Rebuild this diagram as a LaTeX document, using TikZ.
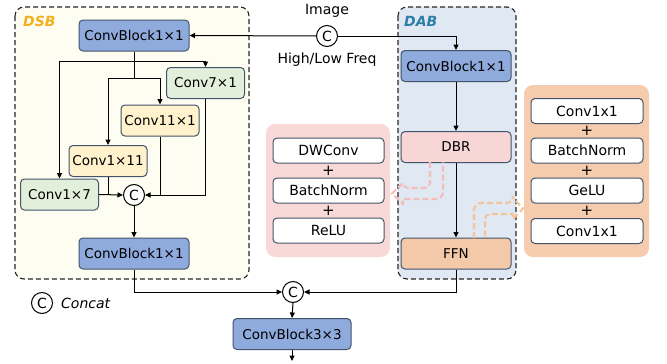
\documentclass[tikz,border=0pt]{standalone}
\usepackage{fontspec}
\setmainfont{DejaVu Sans}
\usetikzlibrary{arrows.meta}

\definecolor{edgecol}{HTML}{44546A}
\definecolor{dsbbg}{HTML}{FDFDF1}
\definecolor{dabbg}{HTML}{DFE8F3}
\definecolor{bluebox}{HTML}{8FAADC}
\definecolor{greenbox}{HTML}{E2EFDA}
\definecolor{yellowbox}{HTML}{FFF2CC}
\definecolor{pinkbox}{HTML}{F8D6D6}
\definecolor{orangebox}{HTML}{F4C9A9}
\definecolor{pinkpanel}{HTML}{F9D8D8}
\definecolor{orangepanel}{HTML}{F5CDAE}
\definecolor{pinkdash}{HTML}{F4BDBA}
\definecolor{orangedash}{HTML}{F4C59C}
\definecolor{dsbtext}{HTML}{F2B01E}
\definecolor{dabtext}{HTML}{2E7DA6}

\tikzset{
  blk/.style={draw=edgecol, line width=1pt, rounded corners=4pt,
    inner sep=0pt, minimum height=31pt, font=\fontsize{13.5}{15}\selectfont},
  wide/.style={blk, minimum width=110pt},
  small/.style={blk, minimum width=78pt},
  layer/.style={blk, fill=white, minimum width=111pt, minimum height=25pt,
    font=\fontsize{14}{15}\selectfont},
  cat/.style={circle, draw=black, line width=1pt, fill=white, inner sep=0pt,
    minimum size=21pt, font=\fontsize{14}{15}\selectfont},
  panel/.style={rounded corners=9pt, inner sep=0pt},
  group/.style={draw=black!85, line width=1.1pt, rounded corners=9pt,
    dash pattern=on 5pt off 3pt},
  arr/.style={-{Triangle[length=5.5pt,width=5pt]}, line width=1pt},
  ln/.style={line width=1pt},
  hollow/.style={line width=2.1pt, dash pattern=on 6pt off 3pt, rounded corners=5pt},
  plus/.style={inner sep=0pt, font=\fontsize{15}{15}\selectfont},
  lbl/.style={inner sep=0pt, font=\fontsize{14}{15}\selectfont},
}

\begin{document}
\begin{tikzpicture}[x=1pt, y=-1pt]
\useasboundingbox (0,0) rectangle (667,364);

% group backgrounds
\draw[group, fill=dsbbg] (15,7) rectangle (249,279);
\draw[group, fill=dabbg] (398,7) rectangle (516,279);
\node[lbl, text=dsbtext, font=\fontsize{14}{15}\selectfont\bfseries\itshape, anchor=west] (dsbl) at (23,21) {DSB};
\node[lbl, text=dabtext, font=\fontsize{14}{15}\selectfont\bfseries\itshape, anchor=west] (dabl) at (404,21) {DAB};

% side panels
\node[panel, fill=pinkpanel, minimum width=124pt, minimum height=133pt] (pp) at (328,190.5) {};
\node[panel, fill=orangepanel, minimum width=125pt, minimum height=172pt] (op) at (586.5,171) {};

% DSB branch blocks
\node[wide, fill=bluebox] (cbA) at (134,35.5) {ConvBlock1×1};
\node[small, fill=greenbox] (c71) at (205.5,83) {Conv7×1};
\node[small, fill=yellowbox] (c111) at (160,120.5) {Conv11×1};
\node[small, fill=yellowbox] (c1x11) at (108,161) {Conv1×11};
\node[small, fill=greenbox] (c17) at (59.5,194.5) {Conv1×7};
\node[cat] (catA) at (134,195) {C};
\node[wide, fill=bluebox] (cbB) at (134,253.5) {ConvBlock1×1};

% DAB blocks
\node[wide, fill=bluebox] (cbD) at (456,66) {ConvBlock1×1};
\node[wide, fill=pinkbox] (dbr) at (456,147) {DBR};
\node[wide, fill=orangebox] (ffn) at (456,253.5) {FFN};

% input concat
\node[cat] (catI) at (327,36) {C};
\node[lbl] (img) at (327,11) {Image};
\node[lbl] (freq) at (327,60) {High/Low Freq};

% output
\node[cat] (catB) at (293,292) {C};
\node[wide, fill=bluebox, minimum width=118pt] (cb33) at (292,334) {ConvBlock3×3};
\coordinate (out) at (292,361);

% legend
\node[cat] (catL) at (42,303) {C};
\node[lbl, font=\fontsize{14}{15}\selectfont\itshape, anchor=west] (legt) at (61,303) {Concat};

% DBR detail
\node[layer] (dw) at (328.5,150.5) {DWConv};
\node[layer] (bn1) at (328.5,190.5) {BatchNorm};
\node[layer] (relu) at (328.5,230.5) {ReLU};
\node[plus] (p1) at (328.5,170.5) {+};
\node[plus] (p2) at (328.5,210.5) {+};

% FFN detail
\node[layer, minimum width=112pt] (fc1) at (587,111) {Conv1x1};
\node[layer, minimum width=112pt] (bn2) at (587,150.5) {BatchNorm};
\node[layer, minimum width=112pt] (gelu) at (587,190.5) {GeLU};
\node[layer, minimum width=112pt] (fc2) at (587,231) {Conv1x1};
\node[plus] (q1) at (587,131) {+};
\node[plus] (q2) at (587,171) {+};
\node[plus] (q3) at (587,211) {+};

% DSB wiring
\coordinate (j1) at (134,61);
\coordinate (j2) at (134,78);
\draw[ln] (cbA.south) -- (j2);
\draw[arr] (j1) -| (c71.north);
\draw[arr] (j1) -| (c17.north);
\draw[arr] (j2) -| (c111.north);
\draw[arr] (j2) -| (c1x11.north);
\draw[arr] (c17.east) -- (catA.west);
\draw[ln] (c1x11.south) -- (c1x11.south |- catA.west);
\draw[arr] (c71.south) |- (catA.east);
\draw[ln] (c111.south) -- (c111.south |- catA.east);
\draw[arr] (catA.south) -- (cbB.north);

% input split
\draw[arr] (catI.west) -- (cbA.east);
\draw[arr] (catI.east) -| (cbD.north);

% DAB wiring
\draw[arr] (cbD.south) -- (dbr.north);
\draw[arr] (dbr.south) -- (ffn.north);

% merge
\draw[arr] (cbB.south) |- (catB.west);
\draw[arr] (ffn.south) |- (catB.east);
\draw[arr] (catB.south) -- (cb33.north);
\draw[arr] (cb33.south) -- (out);

% hollow dashed pointers to the detail panels
\draw[hollow, draw=pinkdash]
  (430,162) -- (430,188) -- (403,188) [sharp corners] -- (403,183) -- (392,193.5)
  -- (403,204) -- (403,199) [rounded corners=7pt] -- (443,199) -- (443,162);
\draw[hollow, draw=orangedash]
  (474,238) [rounded corners=7pt] -- (474,203) -- (513,203) [sharp corners] -- (513,198)
  -- (523,208.5) -- (513,219) -- (513,214) [rounded corners=5pt] -- (485,214) -- (485,238);
\end{tikzpicture}
\end{document}
